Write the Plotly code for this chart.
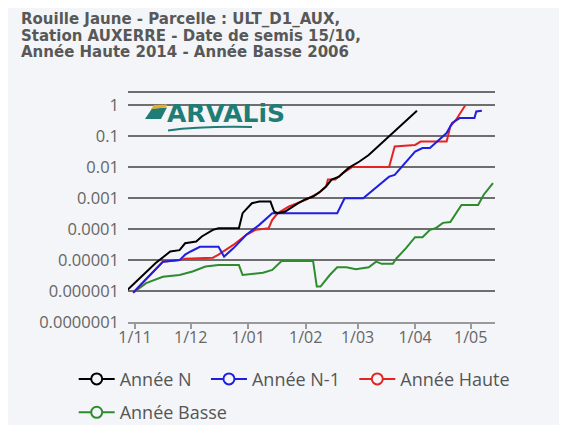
import plotly.graph_objects as go

# ---------------- data ----------------
month_ticks = ["2022-11-01", "2022-12-01", "2023-01-01", "2023-02-01",
               "2023-03-01", "2023-04-01", "2023-05-01"]
month_labels = ["1/11", "1/12", "1/01", "1/02", "1/03", "1/04", "1/05"]

y_ticks = [1e-7, 1e-6, 1e-5, 1e-4, 1e-3, 1e-2, 1e-1, 1]
y_labels = ["0.0000001", "0.000001", "0.00001", "0.0001", "0.001", "0.01", "0.1", "1"]

n_dates = ["2022-10-28", "2022-11-12", "2022-11-20", "2022-11-25", "2022-11-28",
           "2022-12-04", "2022-12-07", "2022-12-13", "2022-12-16", "2022-12-27",
           "2022-12-29", "2023-01-03", "2023-01-07", "2023-01-13", "2023-01-15",
           "2023-01-17", "2023-01-21", "2023-01-25", "2023-01-28", "2023-02-01",
           "2023-02-05", "2023-02-09", "2023-02-12", "2023-02-15", "2023-02-19",
           "2023-02-24", "2023-03-02", "2023-03-07", "2023-03-18", "2023-03-23",
           "2023-04-02"]
n_vals = [1.1e-6, 7.9e-6, 1.9e-5, 2.1e-5, 3.5e-5,
          4.0e-5, 5.8e-5, 9.5e-5, 1.07e-4, 1.07e-4,
          3.3e-4, 6.9e-4, 7.8e-4, 7.8e-4, 3.7e-4,
          3.3e-4, 3.7e-4, 5.4e-4, 6.9e-4, 9.3e-4,
          1.14e-3, 1.65e-3, 2.4e-3, 4.0e-3, 5.0e-3,
          9.4e-3, 0.0154, 0.025, 0.1, 0.185,
          0.67]

n1_dates = ["2022-10-31", "2022-11-16", "2022-11-25", "2022-11-28", "2022-12-01",
            "2022-12-06", "2022-12-16", "2022-12-19", "2022-12-24", "2022-12-31",
            "2023-01-07", "2023-01-14", "2023-02-18", "2023-02-22", "2023-03-04",
            "2023-03-18", "2023-03-21", "2023-04-01", "2023-04-05", "2023-04-09",
            "2023-04-18", "2023-04-21", "2023-04-25", "2023-05-03", "2023-05-04",
            "2023-05-07"]
n1_vals = [8.9e-7, 8.9e-6, 1.0e-5, 1.5e-5, 1.9e-5,
           2.7e-5, 2.7e-5, 1.3e-5, 2.4e-5, 6.6e-5,
           1.38e-4, 3.3e-4, 3.3e-4, 1.0e-3, 1.0e-3,
           5.0e-3, 5.7e-3, 0.032, 0.042, 0.042,
           0.128, 0.27, 0.39, 0.39, 0.64,
           0.67]

haute_dates = ["2022-10-31", "2022-11-16", "2022-11-25", "2022-11-28", "2022-12-13",
               "2022-12-16", "2022-12-24", "2022-12-31", "2023-01-05", "2023-01-12",
               "2023-01-14", "2023-01-17", "2023-01-23", "2023-02-01", "2023-02-08",
               "2023-02-12", "2023-02-13", "2023-02-17", "2023-02-21", "2023-02-26",
               "2023-03-18", "2023-03-21", "2023-04-01", "2023-04-04", "2023-04-18",
               "2023-04-20", "2023-04-23", "2023-04-28"]
haute_vals = [8.9e-7, 8.9e-6, 1.0e-5, 1.1e-5, 1.2e-5,
              1.5e-5, 3.1e-5, 6.6e-5, 9.5e-5, 1.07e-4,
              2.0e-4, 3.3e-4, 5.4e-4, 8.9e-4, 1.5e-3,
              2.4e-3, 4.0e-3, 4.0e-3, 6.5e-3, 0.0102,
              0.0102, 0.047, 0.053, 0.068, 0.068,
              0.21, 0.34, 1.0]

basse_dates = ["2022-10-31", "2022-11-07", "2022-11-16", "2022-11-25", "2022-12-02",
               "2022-12-09", "2022-12-16", "2022-12-27", "2022-12-29", "2023-01-03",
               "2023-01-09", "2023-01-14", "2023-01-19", "2023-02-05", "2023-02-07",
               "2023-02-09", "2023-02-14", "2023-02-18", "2023-02-23", "2023-02-28",
               "2023-03-04", "2023-03-07", "2023-03-11", "2023-03-14", "2023-03-20",
               "2023-03-22", "2023-03-27", "2023-04-01", "2023-04-05", "2023-04-09",
               "2023-04-12", "2023-04-16", "2023-04-20", "2023-04-24", "2023-04-26",
               "2023-05-05", "2023-05-08", "2023-05-13"]
basse_vals = [8.9e-7, 1.8e-6, 2.9e-6, 3.3e-6, 4.3e-6,
              6.2e-6, 6.9e-6, 6.9e-6, 3.3e-6, 3.5e-6,
              3.9e-6, 4.8e-6, 9.4e-6, 9.4e-6, 1.4e-6,
              1.4e-6, 3.3e-6, 5.9e-6, 5.9e-6, 5.1e-6,
              5.7e-6, 5.9e-6, 8.9e-6, 7.6e-6, 7.6e-6,
              1.15e-5, 2.4e-5, 5.5e-5, 5.5e-5, 9.5e-5,
              1.07e-4, 1.6e-4, 1.7e-4, 4.2e-4, 6.1e-4,
              6.1e-4, 1.3e-3, 3.1e-3]

series_names = ["Année N", "Année N-1", "Année Haute", "Année Basse"]
series_colors = ["#000000", "#1f1fe0", "#e62323", "#2e8b2e"]

title_lines = ["Rouille Jaune - Parcelle : ULT_D1_AUX,",
               "Station AUXERRE - Date de semis 15/10,",
               "Année Haute 2014 - Année Basse 2006"]

# ---------------- layout helpers ----------------
# the page body adds an 8px offset; the figure fills the rest of the 567x425 window
OFF = 8
W, H = 567 - OFF, 425 - OFF
ML, MR, MT, MB = 128 - OFF, 72, 92 - OFF, 103
PW, PH = W - ML - MR, H - MT - MB
BG = "#f3f5f8"
GRID = "#6e6e6e"
FONT = "Open Sans"
NBSP = "\u00a0"


def px(x):
    """window pixel x -> paper fraction"""
    return (x - OFF - ML) / PW


def py(y):
    """window pixel y -> paper fraction"""
    return (H - MB - (y - OFF)) / PH


fig = go.Figure()

data = [(n_dates, n_vals), (n1_dates, n1_vals), (haute_dates, haute_vals), (basse_dates, basse_vals)]
order = [3, 2, 1, 0]
for i in order:
    d, v = data[i]
    fig.add_trace(go.Scatter(x=d, y=v, mode="lines", name=series_names[i],
                             line=dict(color=series_colors[i], width=2),
                             showlegend=False, hoverinfo="skip"))

# legend entries
for i in range(4):
    fig.add_trace(go.Scatter(x=[None], y=[None], mode="lines+markers",
                             name=series_names[i] + NBSP * 2,
                             line=dict(color=series_colors[i], width=2),
                             marker=dict(symbol="circle", size=11, color=BG,
                                         line=dict(color=series_colors[i], width=2)),
                             legend="legend" if i < 3 else "legend2"))

annotations = []
title_centers = [19, 35.6, 52.2]
for t, yc in zip(title_lines, title_centers):
    annotations.append(dict(text=t, xref="paper", yref="paper", x=px(19), y=py(yc),
                            xanchor="left", yanchor="middle", showarrow=False,
                            font=dict(family="DejaVu Sans", size=15, color="#585858", weight="bold")))

annotations.append(dict(text="ARVALiS", xref="paper", yref="paper", x=px(165), y=py(113),
                        xanchor="left", yanchor="middle", showarrow=False,
                        font=dict(family="DejaVu Sans", size=25, color="#1f7d76", weight="bold")))


def path(points):
    return "M " + " L ".join(f"{px(a):.5f},{py(b):.5f}" for a, b in points) + " Z"


shapes = [
    dict(type="line", xref="paper", yref="paper", x0=0, x1=1, y0=1, y1=1,
         line=dict(color=GRID, width=2), layer="below"),
    dict(type="path", xref="paper", yref="paper",
         path=path([(145, 119), (152, 108.5), (167, 107.5), (161, 119)]),
         fillcolor="#1f7d76", line=dict(width=0)),
    dict(type="path", xref="paper", yref="paper",
         path=path([(151, 109), (154, 105), (167, 104.5), (166, 107.5)]),
         fillcolor="#e8b020", line=dict(width=0)),
    dict(type="path", xref="paper", yref="paper",
         path=f"M {px(168):.5f},{py(130.5):.5f} Q {px(200):.5f},{py(126):.5f} {px(252):.5f},{py(127):.5f}",
         line=dict(color="#1f7d76", width=2)),
]

legend_common = dict(orientation="h", xanchor="left", yanchor="top", itemwidth=36,
                     bgcolor="rgba(0,0,0,0)", font=dict(family=FONT, size=18, color="#555555"),
                     itemclick=False, itemdoubleclick=False)

fig.update_layout(
    width=W, height=H,
    margin=dict(l=ML, r=MR, t=MT, b=MB, pad=0, autoexpand=False),
    paper_bgcolor=BG, plot_bgcolor=BG,
    font=dict(family=FONT, color="#666666"),
    annotations=annotations,
    shapes=shapes,
    legend=dict(x=px(73.7), y=py(360.7), **legend_common),
    legend2=dict(x=px(73.7), y=py(394.1), **legend_common),
    xaxis=dict(type="date", range=["2022-10-28 05:00", "2023-05-14 02:00"],
               tickvals=month_ticks, ticktext=month_labels,
               ticks="outside", ticklen=5, tickcolor="#9a9a9a", tickwidth=1.5,
               showline=True, linecolor="#9a9a9a", linewidth=1.5,
               showgrid=False, zeroline=False, ticklabelstandoff=-5,
               tickfont=dict(family=FONT, size=16, color="#666666")),
    yaxis=dict(type="log", range=[-7, 0.434],
               tickvals=y_ticks, ticktext=y_labels,
               showgrid=True, gridcolor=GRID, gridwidth=2,
               showline=False, zeroline=False, ticks="",
               ticklabelstandoff=8,
               tickfont=dict(family=FONT, size=16.5, color="#666666")),
    showlegend=True,
)

fig.write_html("out.html")
